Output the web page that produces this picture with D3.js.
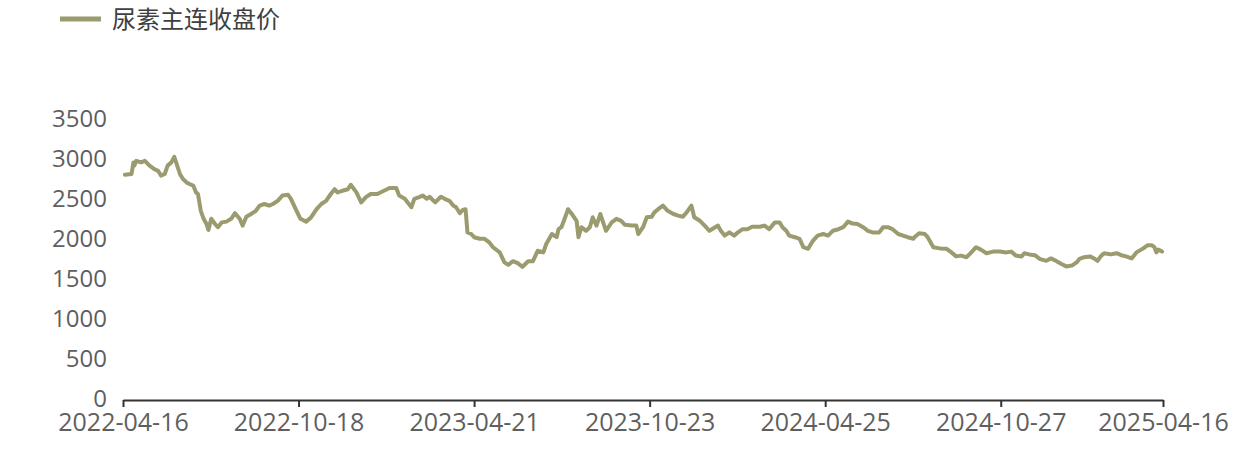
<!DOCTYPE html>
<html>
<head>
<meta charset="utf-8">
<script src="https://cdn.jsdelivr.net/npm/d3@7/dist/d3.min.js"></script>
<style>
  html, body { margin: 0; padding: 0; background: #ffffff; }
  svg { display: block; }
  text { font-family: "Open Sans", "Noto Sans CJK SC", sans-serif; fill: #5f5f5f; }
</style>
</head>
<body>
<svg id="chart" width="1242" height="458"></svg>
<script>
// ---- data ----
const seriesName = "尿素主连收盘价";
const dates = [
  "2022-04-18","2022-04-25","2022-04-27","2022-04-28","2022-04-30","2022-05-05","2022-05-09","2022-05-14","2022-05-19","2022-05-23",
  "2022-05-26","2022-05-30","2022-06-02","2022-06-06","2022-06-09","2022-06-11","2022-06-15","2022-06-18","2022-06-22","2022-06-25",
  "2022-06-29","2022-07-02","2022-07-04","2022-07-07","2022-07-10","2022-07-13","2022-07-15","2022-07-18","2022-07-22","2022-07-25",
  "2022-07-29","2022-08-03","2022-08-08","2022-08-12","2022-08-17","2022-08-20","2022-08-24","2022-08-29","2022-09-03","2022-09-07",
  "2022-09-12","2022-09-17","2022-09-21","2022-09-26","2022-10-01","2022-10-07","2022-10-10","2022-10-15","2022-10-20","2022-10-26",
  "2022-10-31","2022-11-06","2022-11-11","2022-11-16","2022-11-21","2022-11-25","2022-11-28","2022-12-03","2022-12-09","2022-12-12",
  "2022-12-18","2022-12-23","2022-12-28","2023-01-02","2023-01-09","2023-01-16","2023-01-22","2023-01-29","2023-02-01","2023-02-07",
  "2023-02-10","2023-02-14","2023-02-17","2023-02-22","2023-02-26","2023-03-02","2023-03-05","2023-03-11","2023-03-17","2023-03-21",
  "2023-03-26","2023-03-30","2023-04-02","2023-04-06","2023-04-09","2023-04-12","2023-04-14","2023-04-18","2023-04-21","2023-04-27",
  "2023-05-02","2023-05-07","2023-05-11","2023-05-18","2023-05-23","2023-05-27","2023-06-01","2023-06-06","2023-06-11","2023-06-17",
  "2023-06-22","2023-06-27","2023-07-03","2023-07-06","2023-07-12","2023-07-17","2023-07-19","2023-07-22","2023-07-26","2023-07-29",
  "2023-08-02","2023-08-07","2023-08-09","2023-08-12","2023-08-17","2023-08-21","2023-08-24","2023-08-28","2023-09-01","2023-09-04",
  "2023-09-07","2023-09-13","2023-09-18","2023-09-23","2023-09-27","2023-10-04","2023-10-09","2023-10-11","2023-10-16","2023-10-20",
  "2023-10-25","2023-10-28","2023-11-01","2023-11-06","2023-11-11","2023-11-17","2023-11-22","2023-11-27","2023-12-01","2023-12-06",
  "2023-12-09","2023-12-15","2023-12-20","2023-12-25","2023-12-31","2024-01-03","2024-01-06","2024-01-10","2024-01-15","2024-01-20",
  "2024-01-24","2024-01-29","2024-02-03","2024-02-08","2024-02-16","2024-02-21","2024-02-26","2024-03-03","2024-03-08","2024-03-11",
  "2024-03-15","2024-03-18","2024-03-24","2024-03-29","2024-04-02","2024-04-07","2024-04-12","2024-04-17","2024-04-23","2024-04-28",
  "2024-05-03","2024-05-09","2024-05-14","2024-05-19","2024-05-24","2024-05-29","2024-06-04","2024-06-09","2024-06-14","2024-06-21",
  "2024-06-25","2024-06-30","2024-07-05","2024-07-11","2024-07-16","2024-07-21","2024-07-27","2024-07-28","2024-08-02","2024-08-08",
  "2024-08-11","2024-08-17","2024-08-24","2024-08-31","2024-09-05","2024-09-10","2024-09-15","2024-09-21","2024-09-26","2024-10-01",
  "2024-10-06","2024-10-12","2024-10-19","2024-10-26","2024-11-02","2024-11-07","2024-11-12","2024-11-18","2024-11-21","2024-11-26",
  "2024-12-02","2024-12-07","2024-12-14","2024-12-19","2024-12-24","2024-12-30","2025-01-04","2025-01-10","2025-01-15","2025-01-18",
  "2025-01-23","2025-01-29","2025-02-03","2025-02-06","2025-02-10","2025-02-13","2025-02-20","2025-02-26","2025-03-03","2025-03-08",
  "2025-03-14","2025-03-19","2025-03-24","2025-03-28","2025-03-31","2025-04-04","2025-04-07","2025-04-09","2025-04-11","2025-04-15"
];
const closePrices = [
  2790,2800,2945,2905,2965,2945,2965,2905,2860,2840,
  2780,2800,2905,2945,3015,2945,2800,2740,2695,2675,
  2655,2570,2550,2340,2240,2175,2100,2240,2175,2135,
  2195,2205,2240,2310,2240,2155,2265,2300,2340,2405,
  2425,2405,2425,2465,2530,2540,2490,2360,2240,2205,
  2255,2360,2425,2465,2550,2610,2570,2590,2610,2665,
  2570,2445,2510,2550,2550,2590,2625,2625,2530,2490,
  2445,2385,2490,2510,2530,2490,2515,2445,2515,2490,
  2465,2405,2385,2310,2350,2360,2070,2050,2010,1990,
  1990,1945,1885,1820,1695,1665,1710,1685,1640,1710,
  1710,1840,1820,1925,2050,2010,2110,2135,2260,2360,
  2300,2215,2010,2135,2090,2135,2260,2155,2300,2195,
  2090,2195,2240,2215,2165,2155,2155,2050,2135,2260,
  2265,2320,2360,2405,2340,2300,2280,2265,2320,2405,
  2260,2215,2155,2090,2135,2155,2090,2030,2070,2030,
  2070,2110,2110,2140,2140,2155,2110,2195,2195,2135,
  2090,2030,2010,1990,1885,1865,1965,2030,2050,2030,
  2090,2110,2135,2205,2180,2175,2135,2090,2070,2070,
  2135,2135,2110,2050,2030,2010,1990,2010,2060,2050,
  2010,1885,1870,1865,1820,1770,1780,1760,1820,1885,
  1855,1810,1830,1830,1820,1830,1780,1770,1810,1795,
  1785,1740,1715,1745,1715,1675,1645,1655,1695,1740,
  1760,1770,1740,1715,1780,1810,1795,1810,1785,1770,
  1745,1820,1855,1885,1910,1910,1885,1820,1855,1830
];
const xTickLabels = ["2022-04-16","2022-10-18","2023-04-21","2023-10-23","2024-04-25","2024-10-27","2025-04-16"];
const yTickValues = [0,500,1000,1500,2000,2500,3000,3500];

// ---- drawing ----
const parse = d3.timeParse("%Y-%m-%d");
const data = dates.map((d, i) => ({ date: parse(d), value: closePrices[i] }));
const svg = d3.select("#chart");
const lineColor = "#9b9b6f";

const x = d3.scaleTime()
  .domain([parse(xTickLabels[0]), parse(xTickLabels[xTickLabels.length - 1])])
  .range([123, 1163]);
const y = d3.scaleLinear().domain([0, 3500]).range([398, 118]);

// y axis (labels only)
const yAxis = svg.append("g")
  .attr("transform", "translate(107,0)")
  .call(d3.axisLeft(y).tickValues(yTickValues).tickSize(0).tickPadding(0).tickFormat(d3.format("d")));
yAxis.select(".domain").remove();
yAxis.selectAll("text")
  .style("font-size", "24px")
  .style("fill", "#5f5f5f")
  .attr("dy", "0.34em");

// x axis
const xAxis = svg.append("g")
  .attr("transform", "translate(0,400)")
  .call(d3.axisBottom(x)
    .tickValues(xTickLabels.map(parse))
    .tickSize(7)
    .tickSizeOuter(0)
    .tickPadding(6)
    .tickFormat(d3.timeFormat("%Y-%m-%d")));
xAxis.select(".domain").attr("stroke", "#333").attr("stroke-width", 2);
xAxis.selectAll(".tick line").attr("stroke", "#333").attr("stroke-width", 2);
xAxis.selectAll("text")
  .style("font-size", "25px")
  .style("fill", "#5f5f5f");

// line
const line = d3.line().x(d => x(d.date)).y(d => y(d.value));
svg.append("path")
  .datum(data)
  .attr("fill", "none")
  .attr("stroke", lineColor)
  .attr("stroke-width", 4)
  .attr("stroke-linejoin", "round")
  .attr("stroke-linecap", "round")
  .attr("d", line);

// legend
const legend = svg.append("g").attr("transform", "translate(60,19)");
legend.append("line")
  .attr("x1", 0).attr("x2", 41).attr("y1", 0).attr("y2", 0)
  .attr("stroke", lineColor).attr("stroke-width", 5);
legend.append("text")
  .attr("x", 52).attr("y", 0).attr("dy", "0.36em")
  .style("font-family", "'Noto Sans CJK SC', sans-serif")
  .style("font-size", "24px")
  .style("fill", "#404040")
  .text(seriesName);
</script>
</body>
</html>
